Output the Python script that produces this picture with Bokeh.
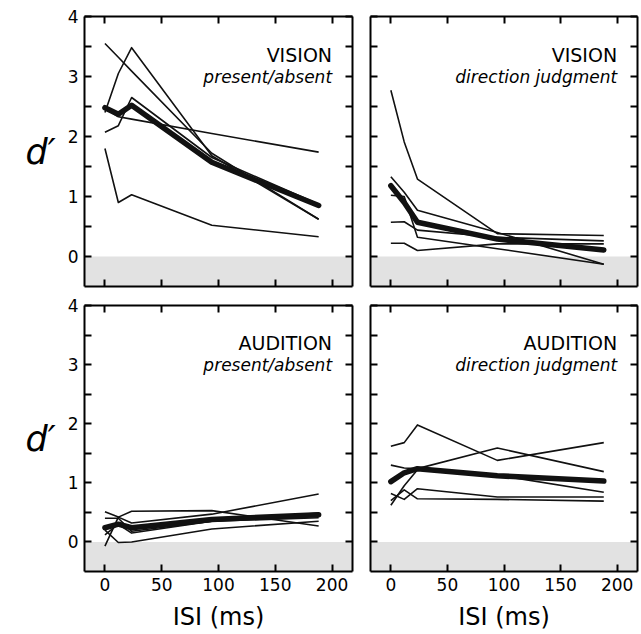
from bokeh.plotting import figure
from bokeh.models import Range1d, LinearAxis, FixedTicker, BoxAnnotation, Label, CustomJSTickFormatter
from bokeh.layouts import column, row
from bokeh.embed import file_html
from bokeh.resources import INLINE

# ---------------- data ----------------
isi = [0, 11.8, 23.5, 94.1, 188.2]

vision_pa_subjects = [
    [3.55, 3.32, 3.09, 1.72, 0.62],
    [2.40, 3.05, 3.48, 1.68, 0.62],
    [2.07, 2.18, 2.65, 1.65, 0.87],
    [2.47, 2.33, 2.29, 2.05, 1.74],
    [1.80, 0.90, 1.03, 0.52, 0.33],
]
vision_pa_mean = [2.48, 2.37, 2.52, 1.57, 0.85]

vision_dir_subjects = [
    [2.77, 1.91, 1.29, 0.38, 0.35],
    [1.33, 1.07, 0.77, 0.40, -0.13],
    [1.02, 1.00, 0.32, 0.13, -0.13],
    [0.57, 0.58, 0.44, 0.32, 0.26],
    [0.22, 0.22, 0.10, 0.21, 0.21],
]
vision_dir_mean = [1.18, 0.90, 0.57, 0.29, 0.11]

audition_pa_subjects = [
    [0.51, 0.42, 0.32, 0.47, 0.81],
    [-0.07, 0.42, 0.52, 0.53, 0.27],
    [0.40, 0.40, 0.18, 0.35, 0.41],
    [0.12, 0.30, 0.15, 0.35, 0.49],
    [0.20, -0.01, 0.00, 0.22, 0.35],
]
audition_pa_mean = [0.24, 0.30, 0.24, 0.38, 0.46]

audition_dir_subjects = [
    [1.62, 1.68, 1.98, 1.38, 1.68],
    [1.30, 1.25, 1.24, 1.59, 1.19],
    [0.62, 0.95, 1.22, 1.13, 0.84],
    [0.82, 0.72, 0.90, 0.76, 0.76],
    [0.70, 0.88, 0.73, 0.72, 0.69],
]
audition_dir_mean = [1.02, 1.17, 1.24, 1.12, 1.03]

x_ticks = [0, 50, 100, 150, 200]
y_ticks = [0, 1, 2, 3, 4]
y_minor = [0.5, 1.5, 2.5, 3.5]

FONT = "DejaVu Sans"


def style_axis(ax, labelled, ticks, minor):
    ax.ticker = FixedTicker(ticks=ticks, minor_ticks=minor)
    ax.axis_line_color = "black"
    ax.axis_line_width = 2
    ax.major_tick_in = 7
    ax.major_tick_out = 0
    ax.major_tick_line_width = 2
    ax.major_tick_line_color = "black"
    ax.minor_tick_in = 7
    ax.minor_tick_out = 0
    ax.minor_tick_line_width = 2
    ax.minor_tick_line_color = "black"
    if labelled:
        ax.major_label_text_font = FONT
        ax.major_label_text_font_size = "17px"
        ax.major_label_text_color = "black"
        ax.major_label_standoff = 6
    else:
        ax.formatter = CustomJSTickFormatter(code="return ''")
        ax.major_label_text_font_size = "0px"
        ax.major_label_standoff = 0


def make_panel(subjects, mean, title, subtitle, left_col, bottom_row):
    p = figure(
        frame_width=268 if left_col else 267,
        frame_height=270 if not bottom_row else 266,
        x_range=Range1d(-18, 218),
        y_range=Range1d(-0.5, 4),
        output_backend="svg",
        toolbar_location=None,
        min_border_left=84 if left_col else 9,
        min_border_right=9 if left_col else 2,
        min_border_top=16 if not bottom_row else 10,
        min_border_bottom=63 if bottom_row else 9,
        background_fill_color="white",
        border_fill_color="white",
    )
    p.outline_line_color = None
    p.grid.visible = False

    bottom_ax = p.below[0]
    left_ax = p.left[0]
    right_ax = LinearAxis()
    top_ax = LinearAxis()
    p.add_layout(right_ax, "right")
    p.add_layout(top_ax, "above")

    style_axis(bottom_ax, bottom_row, x_ticks, [])
    style_axis(top_ax, False, x_ticks, [])
    style_axis(left_ax, left_col, y_ticks, y_minor)
    style_axis(right_ax, False, y_ticks, y_minor)

    if bottom_row:
        bottom_ax.axis_label = "ISI (ms)"
        bottom_ax.axis_label_text_font = FONT
        bottom_ax.axis_label_text_font_size = "24px"
        bottom_ax.axis_label_text_font_style = "normal"
        bottom_ax.axis_label_text_color = "black"
        bottom_ax.axis_label_standoff = 9

    if left_col:
        left_ax.axis_label = "d′"
        left_ax.axis_label_text_font = FONT
        left_ax.axis_label_text_font_size = "35px"
        left_ax.axis_label_text_font_style = "italic"
        left_ax.axis_label_text_color = "black"
        left_ax.axis_label_standoff = 9
        try:
            left_ax.axis_label_orientation = "horizontal"
        except AttributeError:
            pass

    p.add_layout(BoxAnnotation(top=0, fill_color="#e2e2e2", fill_alpha=1.0,
                               line_color=None, level="underlay"))

    for s in subjects:
        p.line(isi, s, line_color="#111111", line_width=1.6, line_join="round")
    p.line(isi, mean, line_color="#111111", line_width=5.5,
           line_join="round", line_cap="round")

    p.add_layout(Label(x=200, y=3.36, text=title, text_align="right",
                       text_baseline="alphabetic", text_font=FONT,
                       text_font_size="19px", text_color="black"))
    p.add_layout(Label(x=200, y=3.0, text=subtitle, text_align="right",
                       text_baseline="alphabetic", text_font=FONT,
                       text_font_size="17px", text_font_style="italic",
                       text_color="black"))
    return p


tl = make_panel(vision_pa_subjects, vision_pa_mean, "VISION", "present/absent", True, False)
tr = make_panel(vision_dir_subjects, vision_dir_mean, "VISION", "direction judgment", False, False)
bl = make_panel(audition_pa_subjects, audition_pa_mean, "AUDITION", "present/absent", True, True)
br = make_panel(audition_dir_subjects, audition_dir_mean, "AUDITION", "direction judgment", False, True)

layout = column(row(tl, tr), row(bl, br))

open("out.html", "w").write(file_html(layout, INLINE))
